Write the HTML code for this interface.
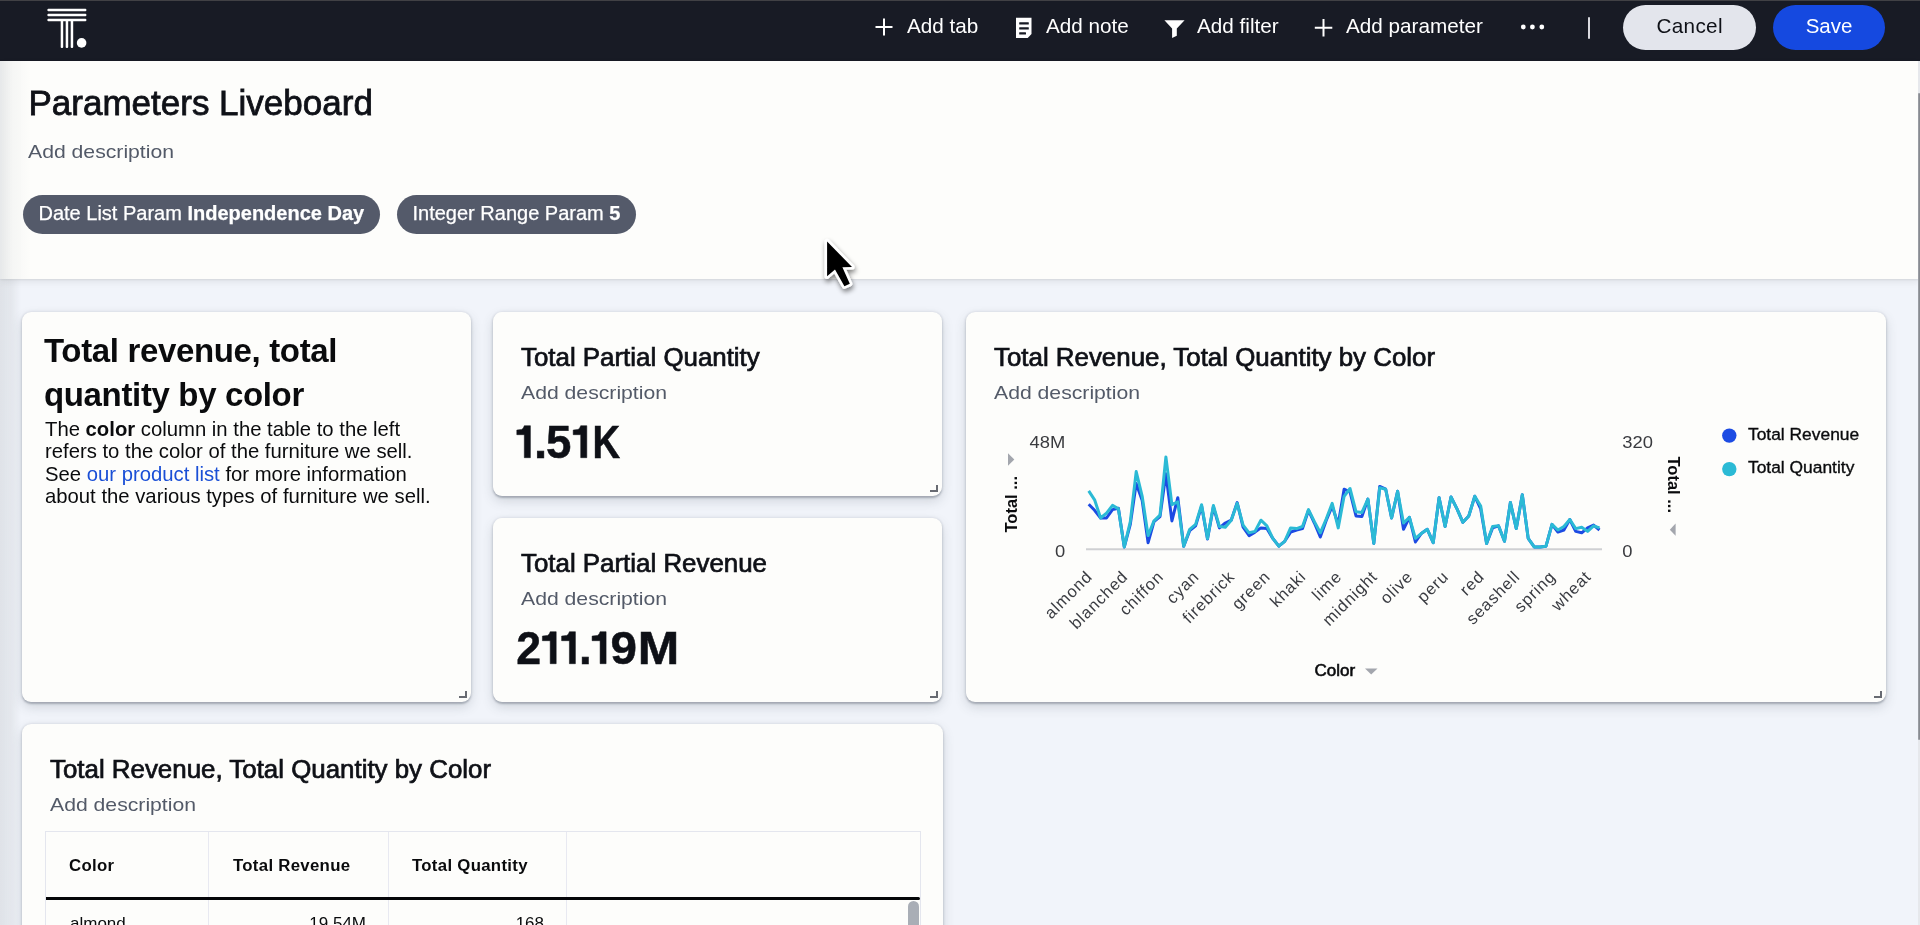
<!DOCTYPE html>
<html><head><meta charset="utf-8">
<style>
*{box-sizing:border-box;margin:0;padding:0}
html,body{width:1920px;height:925px;overflow:hidden}
body{font-family:"Liberation Sans",sans-serif;background:#f1f4fa;position:relative;color:#0f1117}
.abs{position:absolute}
#nav{left:0;top:0;width:1920px;height:61px;background:#181b25;border-top:1px solid #414145}
.nt{position:absolute;top:12.9px;font-size:20.7px;color:#fff;line-height:24px;white-space:nowrap}
#hdr{left:0;top:61px;width:1920px;height:218px;background:#fdfdfb;box-shadow:0 1px 2px rgba(0,0,0,.08),0 3px 7px rgba(0,0,0,.07)}
.card{position:absolute;background:#fdfdfb;border-radius:9px;box-shadow:0 1.5px 2px rgba(60,70,85,.30),0 5px 12px rgba(60,70,85,.18),0 0 4px rgba(60,70,85,.10)}
.rh{position:absolute;width:8px;height:7px;border-right:2.5px solid #686b72;border-bottom:2.5px solid #686b72}
.ttl{position:absolute;font-size:25px;line-height:24px;white-space:nowrap;color:#0f1117;-webkit-text-stroke:0.7px #0f1117;transform:scaleX(1.035);transform-origin:0 0}
.desc{position:absolute;font-size:19px;line-height:19px;color:#535a68;white-space:nowrap;transform:scaleX(1.115);transform-origin:0 0}
.chip{position:absolute;top:195px;height:39px;border-radius:20px;background:#545a6a;color:#fff;font-size:20px;line-height:36.6px;white-space:nowrap;-webkit-text-stroke:0.25px #fff}
.th{position:absolute;top:23.7px;font-size:16.8px;font-weight:bold;letter-spacing:0.3px;color:#0a0b0d;white-space:nowrap;line-height:20px}
.td{position:absolute;top:82px;font-size:17px;color:#0a0b0d;white-space:nowrap;line-height:20px}
</style></head><body><div id="root" style="position:absolute;left:0;top:0;width:1920px;height:925px;will-change:transform">
<div id="nav" class="abs">
  <svg class="abs" style="left:40px;top:-1px" width="60" height="60" viewBox="0 0 60 60">
    <g fill="#fff">
      <rect x="7.4" y="8.8" width="39" height="2.5" rx="1"/>
      <rect x="7.4" y="13.8" width="39" height="2.5" rx="1"/>
      <rect x="7.4" y="18.7" width="39" height="2.5" rx="1"/>
      <rect x="20.7" y="19" width="2.5" height="29" rx="1"/>
      <rect x="25.7" y="19" width="2.5" height="29" rx="1"/>
      <rect x="30.7" y="19" width="2.5" height="29" rx="1"/>
      <circle cx="41.6" cy="42.9" r="4.8"/>
    </g>
  </svg>
  <svg class="abs" style="left:875px;top:17px" width="18" height="18" viewBox="0 0 18 18"><path d="M9 0.5V17.5M0.5 9H17.5" stroke="#fff" stroke-width="2"/></svg>
  <div class="nt" style="left:907px">Add tab</div>
  <svg class="abs" style="left:1016px;top:16px" width="16" height="22" viewBox="0 0 16 22"><path d="M0 0.8H15.5V17.1L11.7 21.1H0Z" fill="#fff"/><g fill="#181b25"><rect x="3.2" y="5.2" width="9.6" height="2.2" rx="0.5"/><rect x="3.2" y="10.3" width="9.6" height="2.3" rx="0.5"/><rect x="3.2" y="15.2" width="6.8" height="2.3" rx="0.5"/></g></svg>
  <div class="nt" style="left:1046px">Add note</div>
  <svg class="abs" style="left:1164px;top:18px" width="21" height="20" viewBox="0 0 21 20"><path d="M0.4 1.2H20.6L12.8 9.6V16.8L8.1 19.1V9.6Z" fill="#fff"/></svg>
  <div class="nt" style="left:1197px">Add filter</div>
  <svg class="abs" style="left:1314px;top:17px" width="19" height="19" viewBox="0 0 19 19"><path d="M9.5 1V18.5M0.8 9.8H18.3" stroke="#fff" stroke-width="2"/></svg>
  <div class="nt" style="left:1346px">Add parameter</div>
  <svg class="abs" style="left:1518px;top:20.3px" width="30" height="12" viewBox="0 0 30 12"><g fill="#fff"><circle cx="5.3" cy="6" r="2.4"/><circle cx="14.4" cy="6" r="2.4"/><circle cx="23.8" cy="6" r="2.4"/></g></svg>
  <div class="abs" style="left:1588.4px;top:16px;width:1.6px;height:22.2px;background:#d9dadf;border-radius:1px"></div>
  <div class="abs" style="left:1623px;top:4px;width:133px;height:45px;border-radius:23px;background:#e3e5ec;color:#0f1117;font-size:20.7px;letter-spacing:0.35px;text-indent:0.35px;line-height:42px;text-align:center">Cancel</div>
  <div class="abs" style="left:1773px;top:4px;width:112px;height:45px;border-radius:23px;background:#1549e0;color:#fff;font-size:20.5px;line-height:42px;text-align:center">Save</div>
</div>
<div id="hdr" class="abs">
  <div class="abs" style="left:28.5px;top:22.2px;font-size:35px;color:#0f1117;white-space:nowrap;-webkit-text-stroke:0.8px #0f1117">Parameters Liveboard</div>
  <div class="desc" style="left:28px;top:80.7px">Add description</div>
</div>
<div class="chip" style="left:23px;width:357px;padding-left:15.5px">Date List Param <b>Independence Day</b></div>
<div class="chip" style="left:397px;width:239px;padding-left:15.5px">Integer Range Param <b>5</b></div>

<!-- note card -->
<div class="card" style="left:22px;top:312px;width:449px;height:390px">
  <div class="abs" style="left:22px;top:16.5px;font-size:33px;letter-spacing:-0.35px;font-weight:bold;line-height:44.8px;color:#0a0b0d;white-space:nowrap">Total revenue, total<br>quantity by color</div>
  <div class="abs" style="left:23px;top:106px;font-size:20.3px;line-height:22.4px;color:#0a0b0d;white-space:nowrap">The <b>color</b> column in the table to the left<br>refers to the color of the furniture we sell.<br>See <span style="color:#1a4fd6">our product list</span> for more information<br>about the various types of furniture we sell.</div>
  <div class="rh" style="left:437px;top:378.7px"></div>
</div>

<!-- KPI 1 -->
<div class="card" style="left:493px;top:312px;width:449px;height:184px">
  <div class="ttl" style="left:28px;top:33px">Total Partial Quantity</div>
  <div class="desc" style="left:28px;top:70.5px">Add description</div>
  <!--K1--><svg class="abs" style="left:0;top:0" width="449" height="184" viewBox="493 312 449 184"><g fill="#0e1016" font-family="Liberation Sans" font-weight="bold" font-size="46.3" stroke="#0e1016" stroke-width="0.5"><path d="M516.8 430.1L521.7 429.4Q523.6 428.6 524.3 425.7H530.4V457.7H524.3V434.7H516.8Z"/><text transform="translate(540.50,457.7) scale(1.023,1)" text-anchor="middle">.</text><text transform="translate(558.75,457.7) scale(0.985,1)" text-anchor="middle">5</text><path d="M573.2 430.1L578.1 429.4Q580.0 428.6 580.7 425.7H586.8V457.7H580.7V434.7H573.2Z"/><text transform="translate(606.27,457.7) scale(0.827,1)" text-anchor="middle">K</text></g></svg><!--/K1-->
  <div class="rh" style="left:437px;top:172.7px"></div>
</div>

<!-- KPI 2 -->
<div class="card" style="left:493px;top:518px;width:449px;height:184px">
  <div class="ttl" style="left:28px;top:33px">Total Partial Revenue</div>
  <div class="desc" style="left:28px;top:70.5px">Add description</div>
  <!--K2--><svg class="abs" style="left:0;top:0" width="449" height="184" viewBox="493 518 449 184"><g fill="#0e1016" font-family="Liberation Sans" font-weight="bold" font-size="46.3" stroke="#0e1016" stroke-width="0.5"><text transform="translate(528.75,663.7) scale(0.965,1)" text-anchor="middle">2</text><path d="M542.4 636.1L547.6 635.4Q549.5 634.6 550.2 631.7H556.2V663.7H550.2V640.7H542.4Z"/><path d="M561.6 636.1L566.8 635.4Q568.7 634.6 569.4 631.7H575.4V663.7H569.4V640.7H561.6Z"/><text transform="translate(585.35,663.7) scale(0.985,1)" text-anchor="middle">.</text><path d="M592.1 636.1L597.5 635.4Q599.4 634.6 600.1 631.7H606.1V663.7H600.1V640.7H592.1Z"/><text transform="translate(623.65,663.7) scale(1.028,1)" text-anchor="middle">9</text><text transform="translate(658.55,663.7) scale(1.076,1)" text-anchor="middle">M</text></g></svg><!--/K2-->
  <div class="rh" style="left:437px;top:172.7px"></div>
</div>

<!-- chart card -->
<div class="card" id="chart" style="left:966px;top:312px;width:920px;height:390px">
  <div class="ttl" style="left:28px;top:33px">Total Revenue, Total Quantity by Color</div>
  <div class="desc" style="left:28px;top:70.5px">Add description</div>
  <!--CHART--><svg class="abs" style="left:0;top:0" width="920" height="390" viewBox="966 312 920 390">
<line x1="1086" y1="549.3" x2="1602" y2="549.3" stroke="#cfd0d3" stroke-width="2"/>
<polyline points="1088.7,504.3 1094.6,510.3 1100.6,518.0 1106.5,518.0 1112.5,509.6 1118.4,508.2 1124.3,546.9 1130.3,524.4 1136.2,483.6 1142.2,500.5 1148.1,542.7 1154.0,521.6 1160.0,516.6 1165.9,473.8 1171.9,520.9 1177.8,497.7 1183.7,546.2 1189.7,530.7 1195.6,525.8 1201.6,506.1 1207.5,539.1 1213.4,506.8 1219.4,527.9 1225.3,523.0 1231.2,520.2 1237.2,502.6 1243.1,527.2 1249.1,535.6 1255.0,532.1 1260.9,527.9 1266.9,528.6 1272.8,538.4 1278.8,546.2 1284.7,541.3 1290.6,532.1 1296.6,530.0 1302.5,528.6 1308.5,510.3 1314.4,523.0 1320.3,537.0 1326.3,520.2 1332.2,506.1 1338.2,524.4 1344.1,489.2 1350.0,492.0 1356.0,515.9 1361.9,516.6 1367.9,499.1 1373.8,543.4 1379.7,486.4 1385.7,489.2 1391.6,518.0 1397.6,491.3 1403.5,529.3 1409.4,517.3 1415.4,542.0 1421.3,533.5 1427.3,529.3 1433.2,542.7 1439.1,497.7 1445.1,526.5 1451.0,497.0 1457.0,508.9 1462.9,522.3 1468.8,515.9 1474.8,496.3 1480.7,508.9 1486.6,543.4 1492.6,527.9 1498.5,525.8 1504.5,541.3 1510.4,502.6 1516.3,528.6 1522.3,494.8 1528.2,538.4 1534.2,546.9 1540.1,546.9 1546.0,546.2 1552.0,524.4 1557.9,532.1 1563.9,530.0 1569.8,519.5 1575.7,531.4 1581.7,532.8 1587.6,527.9 1593.6,525.1 1599.5,530.0" fill="none" stroke="#1c4be3" stroke-width="3" stroke-linejoin="round"/>
<polyline points="1088.7,490.9 1094.6,499.8 1100.6,518.0 1106.5,513.1 1112.5,505.4 1118.4,508.9 1124.3,546.9 1130.3,521.6 1136.2,471.6 1142.2,496.3 1148.1,535.6 1154.0,520.9 1160.0,515.2 1165.9,456.9 1171.9,504.7 1177.8,501.9 1183.7,546.2 1189.7,529.3 1195.6,524.4 1201.6,504.7 1207.5,538.4 1213.4,505.4 1219.4,526.5 1225.3,527.2 1231.2,520.2 1237.2,503.3 1243.1,525.1 1249.1,532.8 1255.0,531.4 1260.9,520.2 1266.9,525.8 1272.8,538.4 1278.8,546.2 1284.7,541.3 1290.6,527.9 1296.6,528.6 1302.5,526.5 1308.5,509.6 1314.4,521.6 1320.3,532.8 1326.3,518.8 1332.2,503.3 1338.2,527.9 1344.1,496.3 1350.0,488.5 1356.0,511.7 1361.9,512.4 1367.9,499.1 1373.8,543.4 1379.7,487.8 1385.7,489.2 1391.6,518.0 1397.6,491.3 1403.5,523.0 1409.4,517.3 1415.4,538.4 1421.3,533.5 1427.3,529.3 1433.2,542.7 1439.1,497.7 1445.1,526.5 1451.0,497.0 1457.0,508.9 1462.9,522.3 1468.8,515.9 1474.8,496.3 1480.7,506.1 1486.6,543.4 1492.6,526.5 1498.5,525.8 1504.5,541.3 1510.4,502.6 1516.3,528.6 1522.3,494.8 1528.2,538.4 1534.2,546.9 1540.1,546.9 1546.0,546.2 1552.0,524.4 1557.9,530.0 1563.9,526.5 1569.8,519.5 1575.7,528.6 1581.7,527.2 1587.6,531.4 1593.6,525.8 1599.5,527.9" fill="none" stroke="#2bbad5" stroke-width="3" stroke-linejoin="round"/>
<g font-family="Liberation Sans" font-size="16.7" fill="#3a3b3f">
<text transform="translate(1065.2,448) scale(1.1,1)" text-anchor="end">48M</text><text transform="translate(1065.2,557.3) scale(1.1,1)" text-anchor="end">0</text>
<text transform="translate(1622.3,448) scale(1.1,1)">320</text><text transform="translate(1622.3,557.3) scale(1.1,1)">0</text>
</g>
<g font-family="Liberation Sans" font-size="16.5" letter-spacing="0.9" fill="#3a3c42"><text transform="translate(1093.3,577.6) rotate(-45)" text-anchor="end">almond</text><text transform="translate(1128.9,577.6) rotate(-45)" text-anchor="end">blanched</text><text transform="translate(1164.6,577.6) rotate(-45)" text-anchor="end">chiffon</text><text transform="translate(1200.2,577.6) rotate(-45)" text-anchor="end">cyan</text><text transform="translate(1235.8,577.6) rotate(-45)" text-anchor="end">firebrick</text><text transform="translate(1271.5,577.6) rotate(-45)" text-anchor="end">green</text><text transform="translate(1307.1,577.6) rotate(-45)" text-anchor="end">khaki</text><text transform="translate(1342.8,577.6) rotate(-45)" text-anchor="end">lime</text><text transform="translate(1378.4,577.6) rotate(-45)" text-anchor="end">midnight</text><text transform="translate(1414.0,577.6) rotate(-45)" text-anchor="end">olive</text><text transform="translate(1449.7,577.6) rotate(-45)" text-anchor="end">peru</text><text transform="translate(1485.3,577.6) rotate(-45)" text-anchor="end">red</text><text transform="translate(1520.9,577.6) rotate(-45)" text-anchor="end">seashell</text><text transform="translate(1556.6,577.6) rotate(-45)" text-anchor="end">spring</text><text transform="translate(1592.2,577.6) rotate(-45)" text-anchor="end">wheat</text></g>
<g font-family="Liberation Sans" font-size="16.5" font-weight="bold" fill="#0a0b0d">
<text transform="translate(1016.5,532.5) rotate(-90)">Total ...</text>
<text transform="translate(1667.5,456.5) rotate(90)">Total ...</text>
<text x="1314.5" y="675.5" font-size="17" font-weight="normal" stroke="#0a0b0d" stroke-width="0.6">Color</text>
</g>
<g fill="#a3a6ad"><path d="M1008 453.2L1014.3 459.5L1008 465.7Z"/><path d="M1675.6 523.6L1669.8 529.7L1675.6 535.8Z"/><path d="M1365 668.5H1377.5L1371.2 674.5Z"/></g>
<circle cx="1729.3" cy="435.6" r="7.2" fill="#1c4be3"/><circle cx="1729.3" cy="469.1" r="7.2" fill="#2bbad5"/>
<g font-family="Liberation Sans" font-size="17.4" fill="#0a0b0d" stroke="#0a0b0d" stroke-width="0.35">
<text x="1748" y="440">Total Revenue</text><text x="1748" y="473.3">Total Quantity</text></g>
</svg><!--/CHART-->
  <div class="rh" style="left:908px;top:378.7px"></div>
</div>

<!-- table card -->
<div class="card" style="left:22px;top:724px;width:921px;height:240px">
  <div class="ttl" style="left:28px;top:33px">Total Revenue, Total Quantity by Color</div>
  <div class="desc" style="left:28px;top:70.5px">Add description</div>
  <div class="abs" style="left:23px;top:107px;width:876px;height:140px;border:1px solid #e4e6ee;border-bottom:none;overflow:hidden">
    <div class="abs" style="left:162px;top:0;width:1px;height:140px;background:#e8e9f1"></div>
    <div class="abs" style="left:342px;top:0;width:1px;height:140px;background:#e8e9f1"></div>
    <div class="abs" style="left:520px;top:0;width:1px;height:140px;background:#e8e9f1"></div>
    <div class="abs" style="left:0;top:64.8px;width:873.5px;height:3px;background:#050608;border-radius:0 1.5px 1.5px 0"></div>
    <div class="th" style="left:23px">Color</div>
    <div class="th" style="left:187px">Total Revenue</div>
    <div class="th" style="left:366px">Total Quantity</div>
    <div class="td" style="left:24px">almond</div>
    <div class="td" style="left:200px;width:120px;text-align:right">19.54M</div>
    <div class="td" style="left:380px;width:118px;text-align:right">168</div>
    <div class="abs" style="left:862.1px;top:69.2px;width:11.1px;height:60px;border-radius:5.5px;background:#a9aeb6"></div>
  </div>
</div>

<!-- left edge shade -->
<div class="abs" style="left:0;top:61px;width:30px;height:218px;background:linear-gradient(90deg,rgba(150,160,172,.22),rgba(150,160,172,.08) 40%,rgba(150,160,172,0))"></div>
<div class="abs" style="left:0;top:279px;width:21px;height:646px;background:linear-gradient(90deg,rgba(160,165,168,.22),rgba(160,165,168,.15) 55%,rgba(160,165,168,0))"></div>
<!-- scrollbar -->
<div class="abs" style="left:1918px;top:61px;width:2px;height:864px;background:#e6e8ec"></div>
<div class="abs" style="left:1917.6px;top:93px;width:2.4px;height:647px;background:linear-gradient(90deg,#a3a6ac,#7f8288);border-radius:1px"></div>
<!-- cursor -->
<svg class="abs" style="left:815px;top:230px;overflow:visible" width="50" height="70" viewBox="0 0 50 70">
  <defs><filter id="cs" x="-50%" y="-50%" width="200%" height="200%"><feGaussianBlur in="SourceAlpha" stdDeviation="2.8"/><feOffset dx="1" dy="2.6"/><feComponentTransfer><feFuncA type="linear" slope="0.5"/></feComponentTransfer><feMerge><feMergeNode/><feMergeNode in="SourceGraphic"/></feMerge></filter></defs>
  <path filter="url(#cs)" d="M12.1 11.4L12.1 46.3L20 39.4L29.4 56.2L34.8 53.8L27.4 37.2L37 37Z" fill="#000" stroke="#fff" stroke-width="5.2" stroke-linejoin="round" paint-order="stroke"/>
</svg>
</div></body></html>
